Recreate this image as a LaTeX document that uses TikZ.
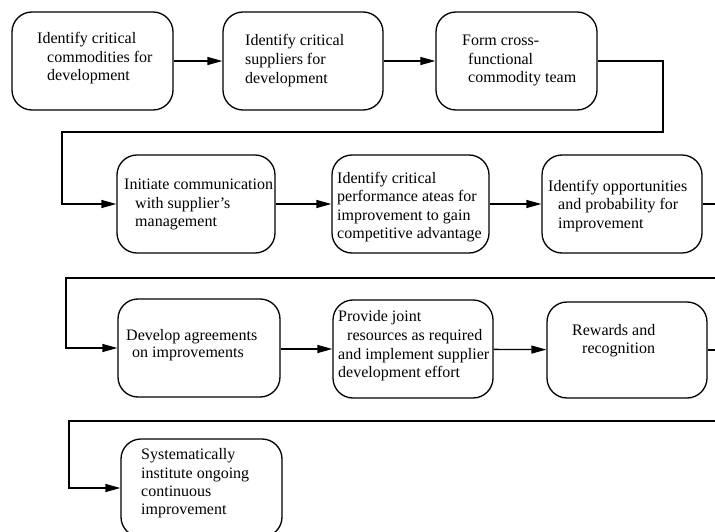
\documentclass[tikz,border=0pt]{standalone}
\usepackage{fontspec}
\setmainfont{Liberation Serif}
\usetikzlibrary{arrows.meta}
\begin{document}
\begin{tikzpicture}[x=1pt,y=-1pt,
  stepbox/.style={draw,line width=1.3pt,rounded corners=20pt},
  txt/.style={anchor=mid west,inner sep=0pt,font=\fontsize{16}{19}\selectfont},
  conn/.style={line width=1.3pt},
  arr/.style={line width=1.3pt,-{Triangle[length=15pt,width=8pt]}}]
\clip (0,0) rectangle (715,532);
% boxes
\node[stepbox,minimum width=161pt,minimum height=98pt] (A) at (92.5,61) {};
\node[stepbox,minimum width=160pt,minimum height=98pt] (B) at (303,61) {};
\node[stepbox,minimum width=161pt,minimum height=98pt] (C) at (516.5,61) {};
\node[stepbox,minimum width=158pt,minimum height=98pt] (D) at (196,204) {};
\node[stepbox,minimum width=157pt,minimum height=98pt] (E) at (410.5,204) {};
\node[stepbox,minimum width=160pt,minimum height=98pt] (F) at (622,204) {};
\node[stepbox,minimum width=162pt,minimum height=98pt] (G) at (199,348) {};
\node[stepbox,minimum width=160pt,minimum height=98pt] (H) at (413,349) {};
\node[stepbox,minimum width=160pt,minimum height=96pt] (I) at (627,350) {};
\node[stepbox,minimum width=161pt,minimum height=98pt] (J) at (201.5,488) {};
% texts
\node[txt] (tA1) at (37,41) {Identify critical};
\node[txt] (tA2) at (47,60) {commodities for};
\node[txt] (tA3) at (47,78) {development};
\node[txt] (tB1) at (245,43) {Identify critical};
\node[txt] (tB2) at (245,62) {suppliers for};
\node[txt] (tB3) at (245,81) {development};
\node[txt] (tC1) at (462,43) {Form cross-};
\node[txt] (tC2) at (468,62) {functional};
\node[txt] (tC3) at (468,80) {commodity team};
\node[txt] (tD1) at (124,187) {Initiate communication};
\node[txt] (tD2) at (135,206) {with supplier's};
\node[txt] (tD3) at (135,224) {management};
\node[txt] (tE1) at (337,181) {Identify critical};
\node[txt] (tE2) at (337,199) {performance ateas for};
\node[txt] (tE3) at (337,218) {improvement to gain};
\node[txt] (tE4) at (337,236) {competitive advantage};
\node[txt] (tF1) at (548,189) {Identify opportunities};
\node[txt] (tF2) at (558,207) {and probability for};
\node[txt] (tF3) at (558,226) {improvement};
\node[txt] (tG1) at (126,338) {Develop agreements};
\node[txt] (tG2) at (132,355) {on improvements};
\node[txt] (tH1) at (338,319) {Provide joint};
\node[txt] (tH2) at (347,338) {resources as required};
\node[txt] (tH3) at (338,357) {and implement supplier};
\node[txt] (tH4) at (338,375) {development effort};
\node[txt] (tI1) at (572,333) {Rewards and};
\node[txt] (tI2) at (582,351) {recognition};
\node[txt] (tJ1) at (141,457) {Systematically};
\node[txt] (tJ2) at (141,476) {institute ongoing};
\node[txt] (tJ3) at (141,494) {continuous};
\node[txt] (tJ4) at (141,512) {improvement};
% connectors
\draw[arr] (A) -- (B);
\draw[arr] (B) -- (C);
\draw[arr] (C.east) -- (663,61) -- (663,132) -- (62,132) |- (D.west);
\draw[arr] (D) -- (E);
\draw[arr] (E) -- (F);
\draw[arr] (F.east) -- (720,204) -- (720,278) -- (66,278) |- (G.west);
\draw[arr] (G.east |- H.west) -- (H.west);
\draw[arr] (H) -- (I);
\draw[arr] (I.east) -- (720,350) -- (720,421) -- (69,421) |- (J.west);
\end{tikzpicture}
\end{document}
